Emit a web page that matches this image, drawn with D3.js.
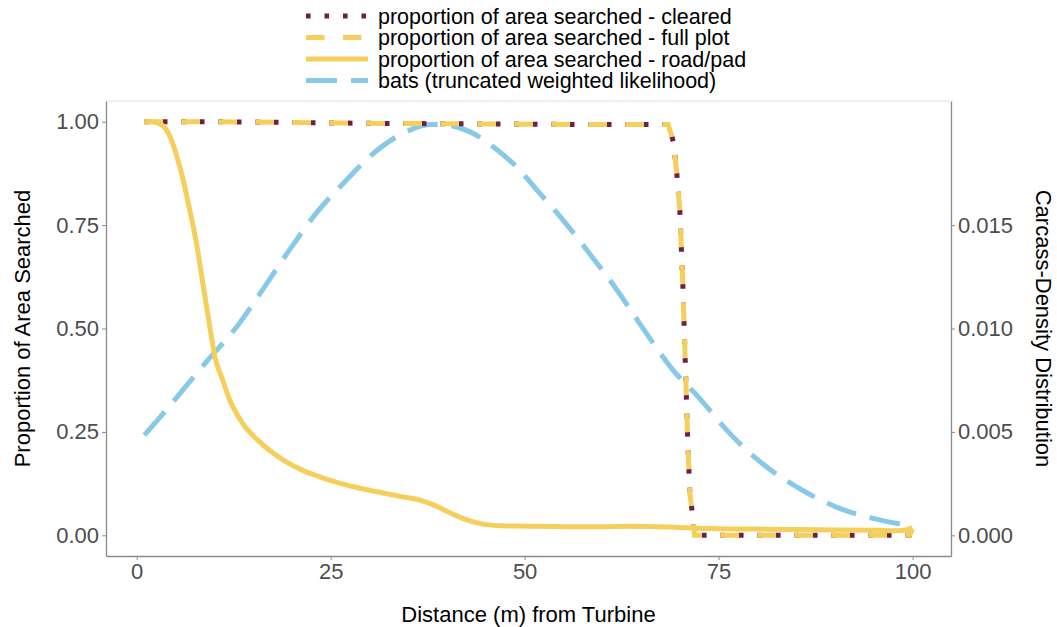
<!DOCTYPE html>
<html>
<head>
<meta charset="utf-8">
<script src="https://cdn.jsdelivr.net/npm/d3@7"></script>
<style>
  body { margin: 0; background: #fff; }
  svg { font-family: "Liberation Sans", Arial, sans-serif; }
</style>
</head>
<body>
<svg id="chart" width="1057" height="627"></svg>
<script>
// distance (m) for the full plot / cleared curves
const distFull = [1, 10, 20, 30, 40, 50, 60, 68.5, 69.2, 69.6, 70, 70.4, 70.7, 71, 71.3, 71.6, 71.9, 80, 90, 99.6, 100];
const fullPlot = [1, 1, 0.998, 0.996, 0.995, 0.994, 0.993, 0.993, 0.95, 0.877, 0.787, 0.6, 0.42, 0.24, 0.1, 0.056, 0, 0, 0, 0, 0.015];
const cleared  = [1, 1, 0.998, 0.996, 0.995, 0.994, 0.993, 0.993, 0.95, 0.877, 0.787, 0.6, 0.42, 0.24, 0.1, 0.056, 0, 0, 0, 0, 0.015];

// road/pad curve
const distRoad = [1, 2, 3, 4, 4.6, 5.2, 5.9, 6.8, 7.7, 8.5, 9.4, 10.1, 11.1, 12, 13, 14, 15.5, 17.5, 19.5, 21.4, 23.5, 25.8, 28.5, 31.3, 34, 36.5, 38.7, 40.3, 42, 43.5, 44.6, 47, 50.6, 55, 60, 63.5, 67, 70, 72, 75, 80, 85, 90, 95, 98, 99, 100];
const roadPad  = [1, 1, 0.995, 0.975, 0.95, 0.915, 0.867, 0.79, 0.707, 0.613, 0.507, 0.43, 0.375, 0.327, 0.29, 0.262, 0.232, 0.2, 0.175, 0.157, 0.142, 0.128, 0.115, 0.104, 0.094, 0.085, 0.07, 0.055, 0.041, 0.032, 0.027, 0.023, 0.022, 0.021, 0.021, 0.022, 0.021, 0.019, 0.017, 0.016, 0.015, 0.014, 0.013, 0.012, 0.011, 0.012, 0.018];

// bats carcass density
const distBats = [1, 3.9, 9, 12.9, 16.2, 19.7, 23.2, 27.1, 30, 34.8, 37.8, 39, 42.9, 45.9, 49, 51.9, 54.9, 58, 61.9, 64.8, 69.1, 72.6, 76.4, 81.2, 85.8, 90.6, 94.9, 97.9, 100];
const batsDensity = [0.00484, 0.0061, 0.0084, 0.01008, 0.01186, 0.0138, 0.0156, 0.0172, 0.0183, 0.01952, 0.01986, 0.01986, 0.01952, 0.0188, 0.0178, 0.01656, 0.01526, 0.0138, 0.01186, 0.01026, 0.008, 0.0066, 0.00494, 0.0033, 0.00218, 0.0013, 0.00082, 0.00058, 0.00048];

const xTicks = [0, 25, 50, 75, 100];
const yTicks = [0, 0.25, 0.5, 0.75, 1];
const densTicks = [0, 0.005, 0.01, 0.015];

const legendLabels = [
  "proportion of area searched - cleared",
  "proportion of area searched - full plot",
  "proportion of area searched - road/pad",
  "bats (truncated weighted likelihood)"
];

const YELLOW = "#F5CF5B";
const PURPLE = "#6E1F45";
const BLUE = "#87C9E6";
const LW = 5;

const panel = { left: 106, right: 951, top: 101, bottom: 556 };

const svg = d3.select("#chart");

const x = d3.scaleLinear().domain([-3.95, 104.95]).range([panel.left, panel.right]);
const y = d3.scaleLinear().domain([-0.05, 1.05]).range([panel.bottom, panel.top]);
const yDens = d3.scaleLinear().domain([-0.001, 0.021]).range([panel.bottom, panel.top]);

// top border of the panel
svg.append("line")
  .attr("x1", panel.left).attr("x2", panel.right)
  .attr("y1", panel.top).attr("y2", panel.top)
  .attr("stroke", "#e0e0e0").attr("stroke-width", 1);

// axes
function styleAxis(g) {
  g.select(".domain").attr("stroke", "#8a8a8a").attr("stroke-width", 1.3);
  g.selectAll(".tick line").attr("stroke", "#8a8a8a");
  g.selectAll(".tick text").attr("fill", "#4d4d4d").attr("font-size", "22px")
    .attr("font-family", "Liberation Sans, Arial, sans-serif");
}

svg.append("g")
  .attr("transform", `translate(0,${panel.bottom})`)
  .call(d3.axisBottom(x).tickValues(xTicks).tickSize(4).tickSizeOuter(0).tickPadding(3).tickFormat(d3.format("d")))
  .call(styleAxis);

svg.append("g")
  .attr("transform", `translate(${panel.left},0)`)
  .call(d3.axisLeft(y).tickValues(yTicks).tickSize(4).tickSizeOuter(0).tickPadding(3).tickFormat(d3.format(".2f")))
  .call(styleAxis);

svg.append("g")
  .attr("transform", `translate(${panel.right},0)`)
  .call(d3.axisRight(yDens).tickValues(densTicks).tickSize(4).tickSizeOuter(0).tickPadding(3).tickFormat(d3.format(".3f")))
  .call(styleAxis);

// curves
const plot = svg.append("g");

const lineLeft = d3.line().x(d => x(d[0])).y(d => y(d[1]));
const lineSmooth = d3.line().x(d => x(d[0])).y(d => y(d[1])).curve(d3.curveMonotoneX);
const lineDens = d3.line().x(d => x(d[0])).y(d => yDens(d[1])).curve(d3.curveMonotoneX);

plot.append("path")
  .datum(d3.zip(distBats, batsDensity))
  .attr("d", lineDens)
  .attr("fill", "none").attr("stroke", BLUE).attr("stroke-width", LW)
  .attr("stroke-dasharray", "31,14");

plot.append("path")
  .datum(d3.zip(distFull, cleared))
  .attr("d", lineLeft)
  .attr("fill", "none").attr("stroke", PURPLE).attr("stroke-width", LW)
  .attr("stroke-dasharray", "4.6,13.9");

plot.append("path")
  .datum(d3.zip(distFull, fullPlot))
  .attr("d", lineLeft)
  .attr("fill", "none").attr("stroke", YELLOW).attr("stroke-width", LW)
  .attr("stroke-dasharray", "18.5,18.5");

plot.append("path")
  .datum(d3.zip(distRoad, roadPad))
  .attr("d", lineSmooth)
  .attr("fill", "none").attr("stroke", YELLOW).attr("stroke-width", LW)
  .attr("stroke-linejoin", "round");

// axis titles
svg.append("text")
  .attr("x", (panel.left + panel.right) / 2).attr("y", 622)
  .attr("text-anchor", "middle").attr("font-size", "22px").attr("fill", "#000")
  .text("Distance (m) from Turbine");

svg.append("text")
  .attr("transform", `translate(30,${(panel.top + panel.bottom) / 2}) rotate(-90)`)
  .attr("text-anchor", "middle").attr("font-size", "22px").attr("fill", "#000")
  .text("Proportion of Area Searched");

svg.append("text")
  .attr("transform", `translate(1036,${(panel.top + panel.bottom) / 2}) rotate(90)`)
  .attr("text-anchor", "middle").attr("font-size", "22px").attr("fill", "#000")
  .text("Carcass-Density Distribution");

// legend
const legendStyles = [
  { stroke: PURPLE, dash: "4.6,13.9" },
  { stroke: YELLOW, dash: "18.5,18.5" },
  { stroke: YELLOW, dash: null },
  { stroke: BLUE, dash: "31,14" }
];
const legend = svg.append("g");
legendLabels.forEach((label, i) => {
  const cy = 16 + i * 21.5;
  const s = legendStyles[i];
  legend.append("line")
    .attr("x1", 306).attr("x2", 368)
    .attr("y1", cy).attr("y2", cy)
    .attr("stroke", s.stroke).attr("stroke-width", LW)
    .attr("stroke-dasharray", s.dash);
  legend.append("text")
    .attr("x", 378).attr("y", cy + 7.5)
    .attr("font-size", "21.5px").attr("fill", "#000")
    .text(label);
});
</script>
</body>
</html>
